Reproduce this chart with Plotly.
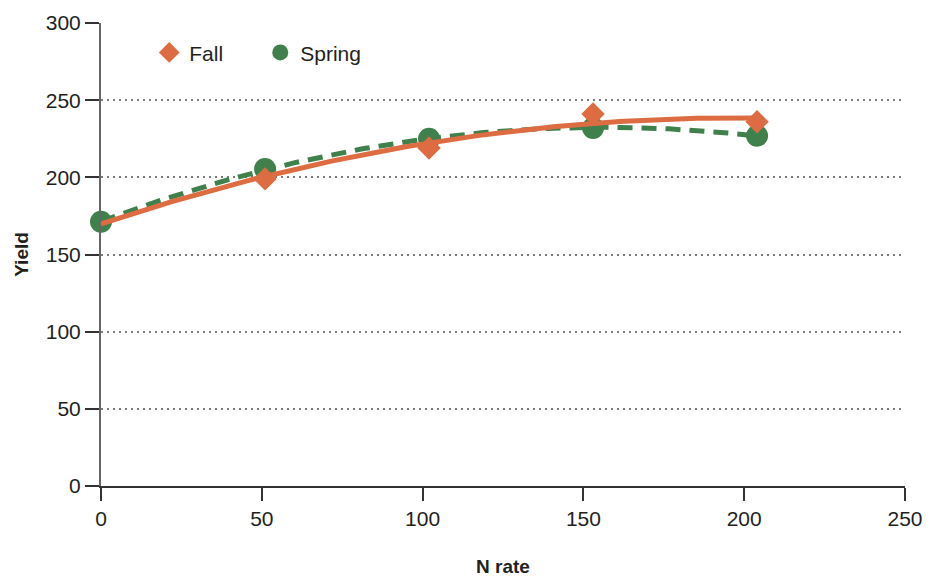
import numpy as np
import plotly.graph_objects as go

# Nitrogen rate trial: yield response to fall vs spring N application
check_rate = 0
check_yield = 171.2          # zero-N check shared by both timings

fall_rates = [51, 102, 153, 204]
fall_yield = [199, 219, 241, 236]

spring_rates = [0, 51, 102, 153, 204]
spring_yield = [171.2, 205.4, 225, 232, 227]

x_ticks = [0, 50, 100, 150, 200, 250]
y_ticks = [0, 50, 100, 150, 200, 250, 300]

FALL_COLOR = "#DD6C42"
SPRING_COLOR = "#40804D"
TEXT_COLOR = "#231F20"
FONT = "Liberation Sans, Arial, Helvetica, sans-serif"


def quad_trend(xs, ys):
    """Second-order polynomial trendline across the observed N range."""
    coef = np.polyfit(xs, ys, 2)
    xx = np.linspace(min(xs), max(xs), 120)
    return xx, np.polyval(coef, xx)


fall_fit_x, fall_fit_y = quad_trend([check_rate] + fall_rates, [check_yield] + fall_yield)
spring_fit_x, spring_fit_y = quad_trend(spring_rates, spring_yield)

fig = go.Figure()

fig.add_trace(go.Scatter(
    x=spring_fit_x, y=spring_fit_y, mode="lines", showlegend=False, hoverinfo="skip",
    line=dict(color=SPRING_COLOR, width=5, dash="15px,9px"), cliponaxis=False,
))
fig.add_trace(go.Scatter(
    x=spring_rates, y=spring_yield, mode="markers", name="Spring", legendrank=2,
    marker=dict(symbol="circle", size=22, color=SPRING_COLOR), cliponaxis=False,
))
fig.add_trace(go.Scatter(
    x=fall_fit_x, y=fall_fit_y, mode="lines", showlegend=False, hoverinfo="skip",
    line=dict(color=FALL_COLOR, width=5), cliponaxis=False,
))
fig.add_trace(go.Scatter(
    x=fall_rates, y=fall_yield, mode="markers", name="Fall", legendrank=1,
    marker=dict(symbol="diamond", size=18, color=FALL_COLOR), cliponaxis=False,
))

fig.update_layout(
    width=945, height=577,
    margin=dict(l=101, r=40, t=23, b=91),
    paper_bgcolor="white", plot_bgcolor="white",
    font=dict(family=FONT, color=TEXT_COLOR, size=20),
    legend=dict(
        orientation="h", x=0.06, xanchor="left", y=0.98, yanchor="top",
        font=dict(size=21, family=FONT, color=TEXT_COLOR),
        entrywidth=66, bgcolor="rgba(0,0,0,0)",
    ),
)

fig.update_xaxes(
    range=[0, 250], tickvals=x_ticks, ticktext=[str(v) for v in x_ticks],
    showline=True, linecolor="#333333", linewidth=2,
    ticks="outside", ticklen=13, tickwidth=1.5, tickcolor="#333333",
    tickfont=dict(size=21), showgrid=False, zeroline=False, automargin=False,
    title=dict(text="<b>N rate</b>", font=dict(size=19), standoff=32),
)
fig.update_yaxes(
    range=[0, 300], tickvals=y_ticks, ticktext=[str(v) for v in y_ticks],
    showline=True, linecolor="#666666", linewidth=2,
    ticks="outside", ticklen=14, tickwidth=1.5, tickcolor="#333333",
    tickfont=dict(size=21), zeroline=False, automargin=False,
    showgrid=True, gridcolor="#7a7a7a", gridwidth=1.5, griddash="2px,4px",
    title=dict(text="<b>Yield</b>", font=dict(size=19), standoff=12),
)

fig.write_html("out.html")
